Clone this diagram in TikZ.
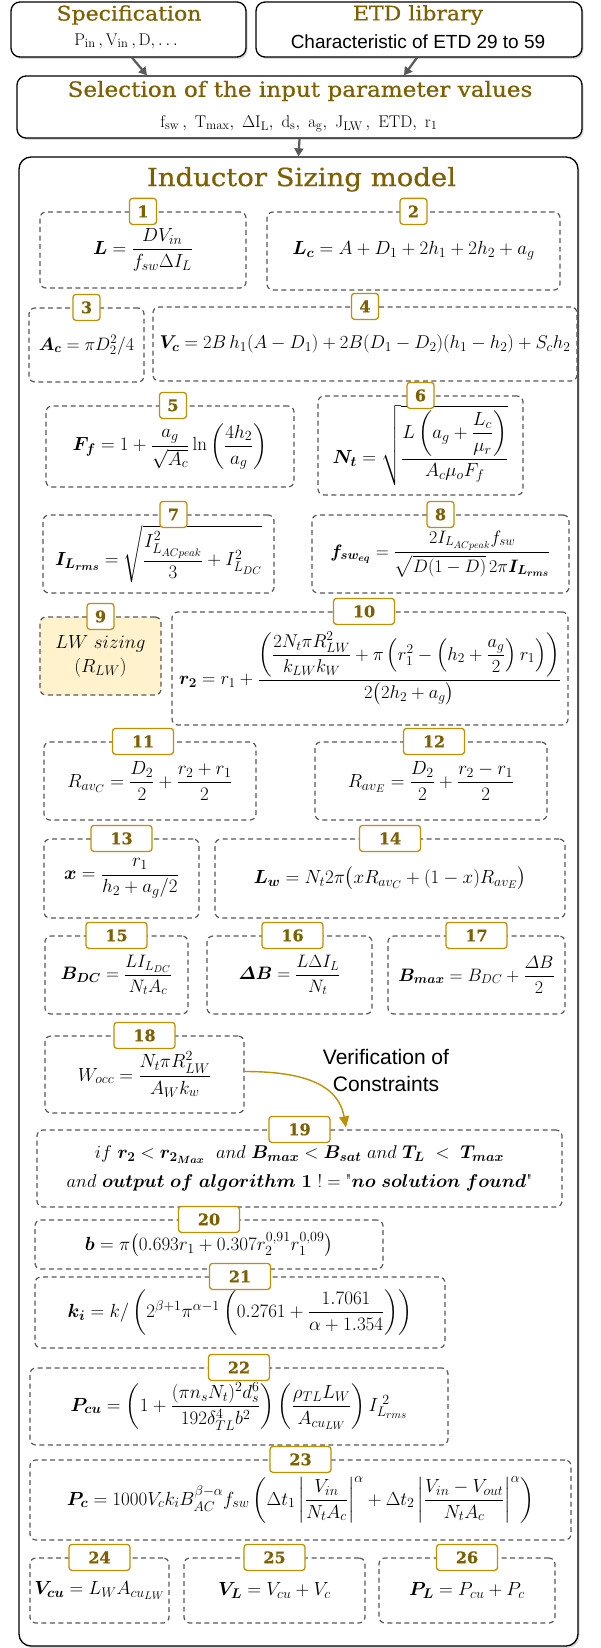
\RequirePackage{fix-cm}
\documentclass[tikz,border=0pt]{standalone}
\usepackage{amsmath,amssymb}
\usepackage[no-math]{fontspec}
\newfontfamily\titlefont[FakeStretch=1.1, FakeBold=0.6]{DejaVu Serif}
\newfontfamily\badgefont[FakeBold=0.5]{DejaVu Serif}
\newfontfamily\arialfont{Liberation Sans}
\DeclareMathSizes{19}{19}{14}{11}
\DeclareMathSizes{18.5}{18.5}{13.5}{10.5}
\DeclareMathSizes{18}{18}{13}{10}
\DeclareMathSizes{17}{17}{12.5}{9.5}
\usepackage{xcolor}
\definecolor{titlebrown}{HTML}{7F6000}
\definecolor{badgegold}{HTML}{BF9000}
\definecolor{dashgray}{HTML}{595959}
\definecolor{lwfill}{HTML}{FFF2CC}
\usepackage{tikz}
\usetikzlibrary{arrows.meta, positioning, calc, shadows}

\begin{document}
\begin{tikzpicture}[
  x=1pt, y=-1pt,
  outbox/.style={
    draw=black, line width=1.3pt, rounded corners=9pt, fill=white,
    drop shadow={shadow xshift=1.5pt, shadow yshift=-2pt, opacity=0.3},
    align=center, inner sep=0pt
  },
  eqbox/.style={
    draw=dashgray, line width=1.2pt, dash pattern=on 5pt off 3.5pt,
    rounded corners=6pt, inner sep=1pt, align=center,
    font=\fontsize{19}{22}\selectfont
  },
  badge/.style={
    draw=badgegold, fill=white, line width=1.3pt, rounded corners=3pt,
    minimum width=27pt, minimum height=26pt, inner sep=0pt,
    text=titlebrown, font=\badgefont\bfseries\fontsize{16}{16}\selectfont
  },
  badgewide/.style={badge, minimum width=61pt},
  titletext/.style={text=titlebrown, font=\titlefont\fontsize{20}{22}\selectfont},
  subtext/.style={font=\fontsize{17}{20}\selectfont},
  grayarr/.style={-{Triangle[length=8pt, width=9pt]}, draw=dashgray, line width=2.2pt},
  goldarr/.style={-{Triangle[length=11pt, width=10pt]}, draw=badgegold, line width=1.4pt}
]
  \useasboundingbox (0,0) rectangle (601,1648);

  % inputs
  \node[outbox, minimum width=235pt, minimum height=55pt] (spec) at (128.5,29.5) {};
  \node[titletext] (spectitle) at (129,15) {Specification};
  \node[subtext] (specsub) at (126,41) {$\mathrm{P_{in}\,, V_{in}\,, D,\ldots}$};

  \node[outbox, minimum width=326pt, minimum height=55pt] (etd) at (419,29.5) {};
  \node[titletext] (etdtitle) at (418,15) {ETD library};
  \node[font=\arialfont\fontsize{19}{22}\selectfont] (etdsub) at (418,42) {Characteristic of ETD 29 to 59};

  \node[outbox, minimum width=565pt, minimum height=62pt] (sel) at (299.5,107) {};
  \node[titletext, font=\titlefont\fontsize{21}{23}\selectfont] (seltitle) at (300,91) {Selection of the input parameter values};
  \node[subtext] (selsub) at (299,124)
    {$\mathrm{f_{sw}\,,\ T_{max},\ \Delta I_L,\ d_s,\ a_g,\ J_{LW}\,,\ ETD,\ r_1}$};

  \draw[grayarr] ([xshift=3.5pt]spec.south) -- ([xshift=-152.5pt]sel.north);
  \draw[grayarr] ([xshift=-2pt]etd.south) -- ([xshift=104.5pt]sel.north);

  % sizing model
  \node[outbox, rounded corners=12pt, minimum width=559pt, minimum height=1489pt] (main) at (298.5,901.5) {};
  \draw[grayarr] (sel.south) -- (main.north);
  \node[titletext, font=\titlefont\fontsize{25}{28}\selectfont] (maintitle) at ([xshift=3pt,yshift=-23pt]main.north) {Inductor Sizing model};

  \node[eqbox, minimum width=206pt, minimum height=76pt] (b1) at (143,250)
    {$\boldsymbol{L} = \dfrac{DV_{in}}{f_{sw}\Delta I_L}$};
  \node[badge] (n1) at (b1.north) {1};
  \node[eqbox, minimum width=293pt, minimum height=78pt] (b2) at (413.5,251)
    {$\boldsymbol{L_c} = A + D_1 + 2h_1 + 2h_2 + a_g$};
  \node[badge] (n2) at (b2.north) {2};

  \node[eqbox, font=\fontsize{18}{21}\selectfont, minimum width=115pt, minimum height=74pt] (b3) at (86.5,345)
    {$\boldsymbol{A_c} = \pi D_2^2/4$};
  \node[badge] (n3) at (b3.north) {3};
  \node[eqbox, font=\fontsize{18.5}{21}\selectfont, minimum width=424pt, minimum height=74pt] (b4) at (365,344)
    {$\boldsymbol{V_c} = 2B\,h_1(A - D_1) + 2B(D_1 - D_2)(h_1 - h_2) + S_ch_2$};
  \node[badge] (n4) at (b4.north) {4};

  \node[eqbox, minimum width=248pt, minimum height=81pt] (b5) at (170,446.5)
    {$\boldsymbol{F_f} = 1 + \dfrac{a_g}{\sqrt{A_c}}\ln\left(\dfrac{4h_2}{a_g}\right)$};
  \node[badge] (n5) at ([xshift=3pt]b5.north) {5};
  \node[eqbox, minimum width=205pt, minimum height=99pt] (b6) at (420.5,445.5)
    {$\boldsymbol{N_t} = \sqrt{\dfrac{L\left(a_g + \dfrac{L_c}{\mu_r}\right)}{A_c\mu_oF_f}}$};
  \node[badge] (n6) at (b6.north) {6};

  \node[eqbox, minimum width=231pt, minimum height=78pt] (b7) at (158.5,554)
    {$\boldsymbol{I_{L_{rms}}} = \sqrt{\dfrac{I^2_{L_{ACpeak}}}{3} + I^2_{L_{DC}}}$};
  \node[badge] (n7) at ([xshift=15pt]b7.north) {7};
  \node[eqbox, font=\fontsize{18}{21}\selectfont, minimum width=257pt, minimum height=78pt] (b8) at (440.5,554)
    {$\boldsymbol{f_{sw_{eq}}} = \dfrac{2I_{L_{ACpeak}}f_{sw}}{\sqrt{D(1-D)}\,2\pi\boldsymbol{I_{L_{rms}}}}$};
  \node[badge] (n8) at (b8.north) {8};

  \node[eqbox, fill=lwfill, minimum width=121pt, minimum height=78pt] (b9) at (100.5,656)
    {$LW\ sizing$\\[2pt]$(R_{LW})$};
  \node[badge] (n9) at (b9.north) {9};
  \node[eqbox, font=\fontsize{18.5}{21}\selectfont, minimum width=396pt, minimum height=113pt] (b10) at (370,668.5)
    {$\boldsymbol{r_2} = r_1 + \dfrac{\left(\dfrac{2N_t\pi R_{LW}^2}{k_{LW}k_W} + \pi\left(r_1^2 - \left(h_2 + \dfrac{a_g}{2}\right)r_1\right)\right)}{2\bigl(2h_2 + a_g\bigr)}$};
  \node[badgewide] (n10) at ([xshift=-6pt]b10.north) {10};

  \node[eqbox, minimum width=212pt, minimum height=78pt] (b11) at (150,781)
    {$R_{av_C} = \dfrac{D_2}{2} + \dfrac{r_2 + r_1}{2}$};
  \node[badgewide] (n11) at ([xshift=-7pt]b11.north) {11};
  \node[eqbox, minimum width=232pt, minimum height=78pt] (b12) at (431,781)
    {$R_{av_E} = \dfrac{D_2}{2} + \dfrac{r_2 - r_1}{2}$};
  \node[badgewide] (n12) at ([xshift=3pt]b12.north) {12};

  \node[eqbox, minimum width=155pt, minimum height=79pt] (b13) at (121.5,878.5)
    {$\boldsymbol{x} = \dfrac{r_1}{h_2 + a_g/2}$};
  \node[badgewide] (n13) at (b13.north) {13};
  \node[eqbox, minimum width=350pt, minimum height=79pt] (b14) at (390,878.5)
    {$\boldsymbol{L_w} = N_t2\pi\bigl(xR_{av_C} + (1-x)R_{av_E}\bigr)$};
  \node[badgewide] (n14) at (b14.north) {14};

  \node[eqbox, font=\fontsize{18}{21}\selectfont, minimum width=143pt, minimum height=78pt] (b15) at (116.5,975)
    {$\boldsymbol{B_{DC}} = \dfrac{LI_{L_{DC}}}{N_tA_c}$};
  \node[badgewide] (n15) at (b15.north) {15};
  \node[eqbox, font=\fontsize{18}{21}\selectfont, minimum width=165pt, minimum height=78pt] (b16) at (289.5,975)
    {$\boldsymbol{\varDelta B} = \dfrac{L\Delta I_L}{N_t}$};
  \node[badgewide] (n16) at ([xshift=3pt]b16.north) {16};
  \node[eqbox, font=\fontsize{18}{21}\selectfont, minimum width=177pt, minimum height=78pt] (b17) at (476.5,975)
    {$\boldsymbol{B_{max}} = B_{DC} + \dfrac{\varDelta B}{2}$};
  \node[badgewide] (n17) at (b17.north) {17};

  \node[eqbox, minimum width=199pt, minimum height=77pt] (b18) at (144.5,1074.5)
    {$W_{occ} = \dfrac{N_t\pi R_{LW}^2}{A_Wk_w}$};
  \node[badgewide] (n18) at (b18.north) {18};

  \node[font=\arialfont\fontsize{21}{27}\selectfont, align=center] (verif) at (386,1070)
    {Verification of\\Constraints};

  \node[eqbox, font=\fontsize{18.5}{21}\selectfont, minimum width=525pt, minimum height=77pt] (b19) at (299.5,1168.5)
    {$if\ \boldsymbol{r_2} < \boldsymbol{r_{2_{Max}}}\ \ and\ \boldsymbol{B_{max}} < \boldsymbol{B_{sat}}\ and\ \boldsymbol{T_L}\ <\ \boldsymbol{T_{max}}$\\[8pt]
     $and\ \boldsymbol{output\ of\ algorithm\ 1}\ ! = \text{\textquotedbl}\boldsymbol{no\ solution\ found}\text{\textquotedbl}$};
  \node[badgewide] (n19) at (b19.north) {19};

  \coordinate (vtip) at ([xshift=46.5pt,yshift=2pt]b19.north);
  \draw[goldarr] ([yshift=3pt]b18.east) .. controls +(55,0) and +(-8,-45) .. (vtip);

  \node[eqbox, minimum width=348pt, minimum height=49pt] (b20) at (209,1244.5)
    {$\boldsymbol{b} = \pi\bigl(0.693r_1 + 0.307r_2^{0{,}91}r_1^{0{,}09}\bigr)$};
  \node[badgewide] (n20) at (b20.north) {20};

  \node[eqbox, minimum width=410pt, minimum height=71pt] (b21) at (240,1312.5)
    {$\boldsymbol{k_i} = k/\left(2^{\beta+1}\pi^{\alpha-1}\left(0.2761 + \dfrac{1.7061}{\alpha + 1.354}\right)\right)$};
  \node[badgewide] (n21) at (b21.north) {21};

  \node[eqbox, minimum width=418pt, minimum height=77pt] (b22) at (239,1406.5)
    {$\boldsymbol{P_{cu}} = \left(1 + \dfrac{(\pi n_sN_t)^2d_s^6}{192\delta_{TL}^4b^2}\right)\left(\dfrac{\rho_{TL}L_W}{A_{cu_{LW}}}\right)I_{L_{rms}}^{\;2}$};
  \node[badgewide] (n22) at (b22.north) {22};

  \node[eqbox, minimum width=541pt, minimum height=80pt] (b23) at (300.5,1500)
    {$\boldsymbol{P_c} = 1000V_ck_iB_{AC}^{\beta-\alpha}f_{sw}\left(\Delta t_1\left|\dfrac{V_{in}}{N_tA_c}\right|^{\alpha} + \Delta t_2\left|\dfrac{V_{in} - V_{out}}{N_tA_c}\right|^{\alpha}\right)$};
  \node[badgewide] (n23) at (b23.north) {23};

  \node[eqbox, minimum width=139pt, minimum height=65pt] (b24) at (99.5,1590.5)
    {$\boldsymbol{V_{cu}} = L_WA_{cu_{LW}}$};
  \node[badgewide] (n24) at (b24.north) {24};
  \node[eqbox, minimum width=181pt, minimum height=65pt] (b25) at (274.5,1590.5)
    {$\boldsymbol{V_L} = V_{cu} + V_c$};
  \node[badgewide] (n25) at (b25.north) {25};
  \node[eqbox, minimum width=176pt, minimum height=65pt] (b26) at (467,1590.5)
    {$\boldsymbol{P_L} = P_{cu} + P_c$};
  \node[badgewide] (n26) at (b26.north) {26};
\end{tikzpicture}
\end{document}
